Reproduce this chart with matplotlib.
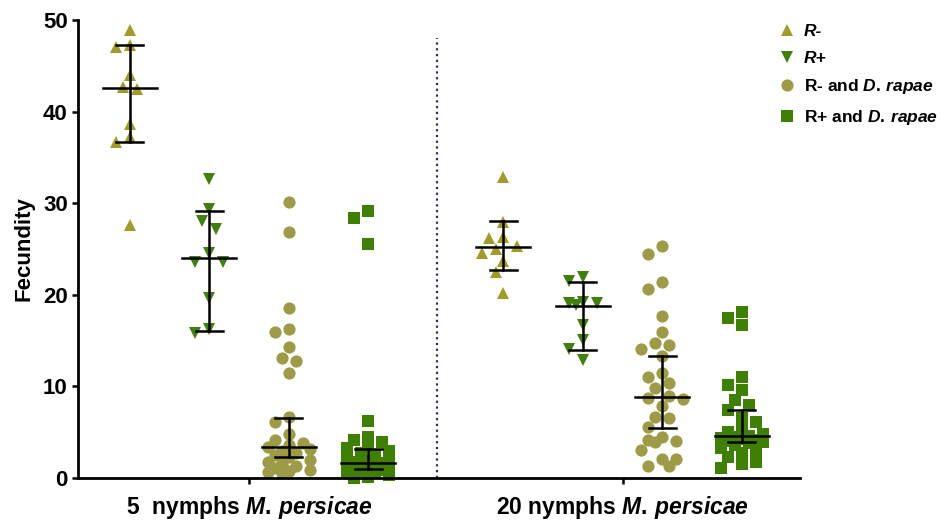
import numpy as np
import matplotlib
matplotlib.use("Agg")
import matplotlib.pyplot as plt

plt.rcParams['font.family'] = 'Liberation Sans'
plt.rcParams['font.weight'] = 'bold'
plt.rcParams['axes.labelweight'] = 'bold'
plt.rcParams['mathtext.fontset'] = 'custom'
plt.rcParams['mathtext.rm'] = 'Liberation Sans:bold'
plt.rcParams['mathtext.it'] = 'Liberation Sans:italic:bold'
plt.rcParams['mathtext.bf'] = 'Liberation Sans:bold'

# --- data ---
groups = ["5  nymphs $M.\\,persicae$", "20 nymphs $M.\\,persicae$"]
series = ["R-", "R+", "R- and $D.\\,rapae$", "R+ and $D.\\,rapae$"]

r_minus_5 = [48.9, 47.3, 47.1, 44.0, 42.7, 42.5, 38.6, 37.2, 36.7, 27.6]
r_plus_5 = [32.6, 29.4, 28.1, 27.2, 24.6, 23.6, 23.6, 19.6, 16.3, 15.8]
r_minus_dr_5 = [30.1, 26.9, 18.6, 16.3, 15.9, 14.3, 13.1, 12.8, 11.5, 6.7,
                6.1, 4.8, 4.2, 3.8, 3.6, 3.4, 3.2, 2.9, 2.7, 2.5,
                2.3, 2.0, 1.8, 1.5, 1.3, 1.1, 0.9, 0.8, 0.7, 0.6]
r_plus_dr_5 = [29.1, 28.4, 25.5, 6.2, 4.5, 4.1, 3.9, 3.6, 3.3, 3.0,
               2.7, 2.4, 2.1, 2.0, 1.9, 1.7, 1.6, 1.5, 1.4, 1.3,
               1.2, 1.1, 1.0, 0.9, 0.8, 0.6, 0.5, 0.3, 0.1, 0.0]

r_minus_20 = [32.9, 28.0, 26.2, 26.3, 25.3, 25.0, 24.6, 23.7, 22.5, 20.2]
r_plus_20 = [21.5, 21.9, 19.2, 19.1, 19.1, 18.9, 16.7, 15.1, 14.1, 12.9]
r_minus_dr_20 = [25.3, 24.5, 21.4, 20.6, 17.7, 15.9, 14.7, 14.5, 14.1, 13.3,
                 11.5, 11.0, 10.4, 9.8, 9.0, 8.7, 8.6, 7.9, 6.7, 6.6,
                 5.6, 4.5, 4.1, 4.0, 3.9, 3.1, 2.1, 2.1, 1.3, 1.3]
r_plus_dr_20 = [18.1, 17.5, 16.7, 11.0, 10.2, 9.6, 8.5, 8.0, 7.4, 6.6,
                6.1, 5.2, 5.0, 4.8, 4.6, 4.5, 4.4, 4.3, 4.1, 4.0,
                3.9, 3.8, 3.6, 3.3, 3.1, 2.7, 2.3, 1.7, 1.5, 1.1]

# median and interquartile range, same order as the columns
medians = [42.6, 24.0, 3.4, 1.6, 25.2, 18.8, 8.8, 4.6]
q1 = [36.7, 16.0, 2.3, 1.0, 22.7, 14.0, 5.5, 3.9]
q3 = [47.3, 29.2, 6.6, 3.2, 28.1, 21.4, 13.3, 7.4]

columns = [r_minus_5, r_plus_5, r_minus_dr_5, r_plus_dr_5,
           r_minus_20, r_plus_20, r_minus_dr_20, r_plus_dr_20]
xpos = [1, 2, 3, 4, 5.7, 6.7, 7.7, 8.7]

markers = ['^', 'v', 'o', 's']
colors = ['#a19a2d', '#437f10', '#9d9b48', '#3f7f03']

fig = plt.figure(figsize=(9.42, 5.21), dpi=100)
ax = fig.add_axes([0.0828, 0.0825, 0.849 - 0.0828, 0.9616 - 0.0825])
xlim = (0.346, 9.43)
ax.set_xlim(*xlim)
ax.set_ylim(0, 50)

# pixel scale, for spreading points sideways
bb = ax.get_position()
px_x = bb.width * fig.get_figwidth() * fig.dpi / (xlim[1] - xlim[0])
px_y = bb.height * fig.get_figheight() * fig.dpi / 50.0


def swarm(vals, d=12.0, step=7.0, nmax=3):
    # place points near the centre line, packing them when they crowd
    vals = np.asarray(vals, dtype=float)
    placed = []
    offs = np.zeros(len(vals))
    cands = [0.0]
    for k in range(1, nmax + 1):
        cands += [-k * step, k * step]
    for i in np.argsort(-vals, kind='stable'):
        y = vals[i] * px_y
        best, best_d = 0.0, -1
        for c in cands:
            md = min([np.hypot(c - a, y - b) for a, b in placed] + [1e9])
            if md >= d:
                best = c
                break
            if md > best_d + 0.5:
                best, best_d = c, md
        placed.append((best, y))
        offs[i] = best / px_x
    return offs


ms = 8.8
for k, vals in enumerate(columns):
    s = k % 4
    xs = xpos[k] + swarm(vals)
    ax.plot(xs, vals, linestyle='none', marker=markers[s], ms=ms,
            color=colors[s], mew=0, clip_on=False, zorder=2,
            label=series[s] if k < 4 else None)

# median + IQR
mw, cw = 0.34, 0.17
for k in range(len(columns)):
    x = xpos[k]
    ax.plot([x - mw, x + mw], [medians[k]] * 2, color='black', lw=1.8, zorder=3)
    ax.plot([x, x], [q1[k], q3[k]], color='black', lw=1.8, zorder=3)
    ax.plot([x - cw, x + cw], [q1[k]] * 2, color='black', lw=1.8, zorder=3)
    ax.plot([x - cw, x + cw], [q3[k]] * 2, color='black', lw=1.8, zorder=3)

# divider between the two groups
ax.plot([4.86, 4.86], [0, 48], color='#2e2e5e', lw=1.6,
        linestyle=(0, (1, 1.6)), zorder=1)

ax.spines['top'].set_visible(False)
ax.spines['right'].set_visible(False)
for sp in ['left', 'bottom']:
    ax.spines[sp].set_linewidth(2)

ax.set_yticks([0, 10, 20, 30, 40, 50])
ax.set_xticks([2.5, 7.2])
ax.set_xticklabels(groups)
ax.tick_params(axis='both', width=1.8, length=4.3, labelsize=16)
ax.tick_params(axis='x', pad=7, labelsize=16.5)
ax.tick_params(axis='y', pad=3)
ax.set_ylabel("Fecundity", fontsize=16, fontweight='bold', labelpad=6)

leg = ax.legend(loc='upper left', bbox_to_anchor=(778 / 942, 1 - 24 / 521),
                bbox_transform=fig.transFigure, frameon=False,
                fontsize=12.5, borderaxespad=0, borderpad=0,
                handlelength=1.0, handletextpad=0.5, labelspacing=0.66)
for t in leg.get_texts()[:2]:
    t.set_fontstyle('italic')

fig.savefig("out.png", dpi=100)
